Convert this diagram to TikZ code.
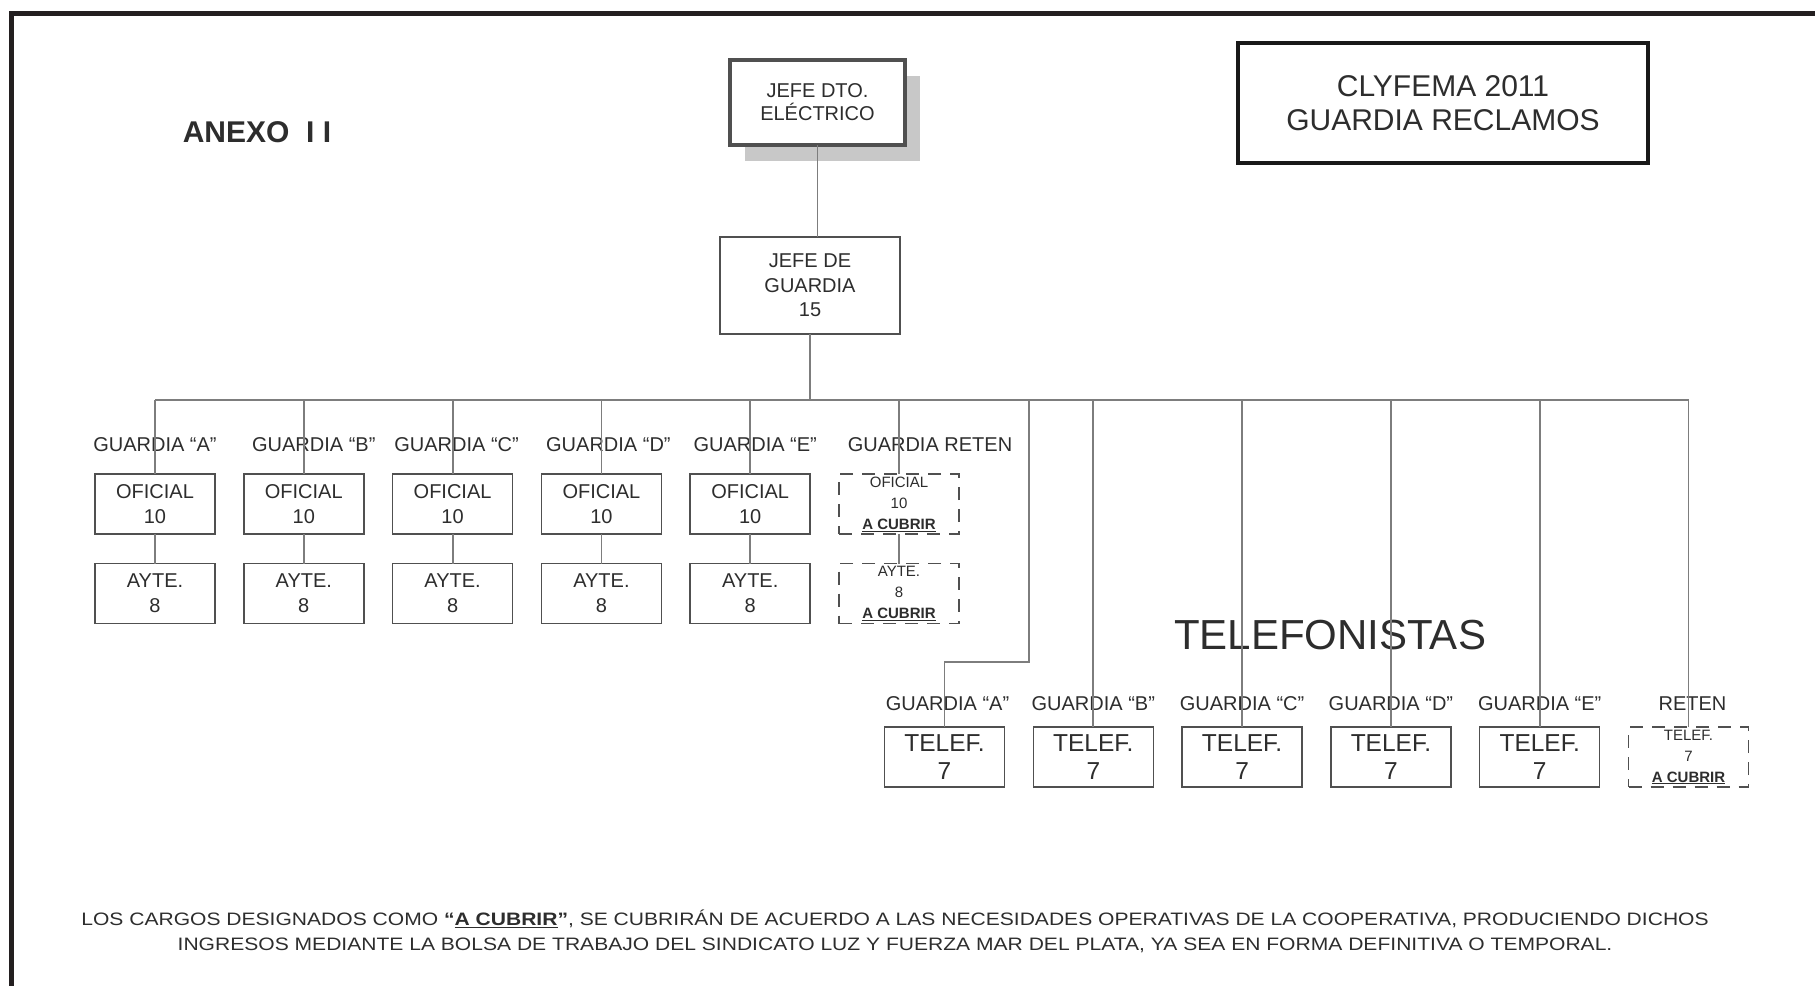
\documentclass[tikz,border=0pt]{standalone}
\usepackage{fontspec}
\setmainfont{Liberation Sans}
\newfontfamily\notafont[FakeStretch=1.17]{Liberation Sans}
\usepackage{tikz,xcolor}
\usetikzlibrary{positioning, shadows}
\definecolor{boxcolor}{RGB}{80,80,80}
\definecolor{linecolor}{RGB}{125,125,125}
\definecolor{shadecolor}{RGB}{200,200,200}
\definecolor{textcolor}{RGB}{45,45,45}
\definecolor{framecolor}{RGB}{35,31,32}

\begin{document}
\begin{tikzpicture}[x=1pt, y=-1pt,
		node distance=29.5pt and 28.8pt,
		base/.style = {draw=boxcolor, fill=white, line width=1.5pt, text=textcolor, inner sep=0pt, outer sep=0pt, align=center},
		cargo/.style = {rectangle, base, minimum width=120pt, minimum height=60pt, font=\fontsize{20}{25}\selectfont},
		tel/.style = {cargo, font=\fontsize{24.5}{28}\selectfont},
		cubrir/.style = {cargo, dash pattern=on 13pt off 9pt, font=\fontsize{15}{21}\selectfont},
		lab/.style = {text=textcolor, inner sep=0pt, align=center, font=\fontsize{20}{24}\selectfont},
		conn/.style = {draw=linecolor, line width=1.8pt}
		]
		\useasboundingbox (0,0) rectangle (1815,986);
		\draw[line width=5pt, draw=framecolor] (1815,13.5) -- (11.5,13.5) -- (11.5,986);
		
		\node (anexo) [lab, font=\bfseries\fontsize{30}{30}\selectfont] at (257,132) {ANEXO~~I~I};
		\node (titulo) [base, draw=black!90, line width=3.5pt, minimum width=410pt, minimum height=120pt, font=\fontsize{30}{34}\selectfont] at (1443,103) {CLYFEMA 2011\\GUARDIA RECLAMOS};
		
		\node (J1) [base, line width=4pt, minimum width=175pt, minimum height=85pt, font=\fontsize{20}{23}\selectfont, drop shadow={shadow xshift=15pt, shadow yshift=-16pt, fill=shadecolor, opacity=1}] at (817.5,102.5) {JEFE DTO.\\ELÉCTRICO};
		\node (J2) [base, minimum width=180pt, minimum height=97pt, font=\fontsize{20}{24.5}\selectfont] at (810,285.5) {JEFE DE\\GUARDIA\\15};
		
		\node (OA) [cargo] at (155,504) {OFICIAL\\10};
		\node (OB) [cargo,right=of OA] {OFICIAL\\10};
		\node (OC) [cargo,right=of OB] {OFICIAL\\10};
		\node (OD) [cargo,right=of OC] {OFICIAL\\10};
		\node (OE) [cargo,right=of OD] {OFICIAL\\10};
		\node (OR) [cubrir,right=of OE] {OFICIAL\\10\\\textbf{\underline{A CUBRIR}}};
		
		\node (YA) [cargo,below=of OA] {AYTE.\\8};
		\node (YB) [cargo,below=of OB] {AYTE.\\8};
		\node (YC) [cargo,below=of OC] {AYTE.\\8};
		\node (YD) [cargo,below=of OD] {AYTE.\\8};
		\node (YE) [cargo,below=of OE] {AYTE.\\8};
		\node (YR) [cubrir,below=of OR] {AYTE.\\8\\\textbf{\underline{A CUBRIR}}};
		
		\node (gA) [lab,above=22pt of OA] {GUARDIA “A”};
		\node (gB) [lab,above=22pt of OB, xshift=10pt] {GUARDIA “B”};
		\node (gC) [lab,above=22pt of OC, xshift=4pt] {GUARDIA “C”};
		\node (gD) [lab,above=22pt of OD, xshift=7pt] {GUARDIA “D”};
		\node (gE) [lab,above=22pt of OE, xshift=5pt] {GUARDIA “E”};
		\node (gR) [lab,above=22pt of OR, xshift=31pt] {GUARDIA RETEN};
		
		\node (telef) [lab, font=\fontsize{42}{42}\selectfont] at (1330,635) {TELEFONISTAS};
		
		\node (TA) [tel] at (944.5,757) {TELEF.\\7};
		\node (TB) [tel,right=of TA] {TELEF.\\7};
		\node (TC) [tel,right=of TB] {TELEF.\\7};
		\node (TD) [tel,right=of TC] {TELEF.\\7};
		\node (TE) [tel,right=of TD] {TELEF.\\7};
		\node (TR) [cubrir,right=of TE] {TELEF.\\7\\\textbf{\underline{A CUBRIR}}};
		
		\node (tA) [lab,above=16pt of TA, xshift=3pt] {GUARDIA “A”};
		\node (tB) [lab,above=16pt of TB] {GUARDIA “B”};
		\node (tC) [lab,above=16pt of TC] {GUARDIA “C”};
		\node (tD) [lab,above=16pt of TD] {GUARDIA “D”};
		\node (tE) [lab,above=16pt of TE] {GUARDIA “E”};
		\node (tR) [lab,above=16pt of TR, xshift=4pt] {RETEN};
		
		\node (nota) [lab, font=\notafont\fontsize{18}{25}\selectfont] at (895,931) {LOS CARGOS DESIGNADOS COMO \textbf{“\underline{A CUBRIR}”}, SE CUBRIRÁN DE ACUERDO A LAS NECESIDADES OPERATIVAS DE LA COOPERATIVA, PRODUCIENDO DICHOS\\INGRESOS MEDIANTE LA BOLSA DE TRABAJO DEL SINDICATO LUZ Y FUERZA MAR DEL PLATA, YA SEA EN FORMA DEFINITIVA O TEMPORAL.};
		
		\coordinate (bus) at (810,400);
		\coordinate (kink) at (1029,662);
		
		\draw[conn] (J1.south) -- (J1.south |- J2.north);
		\draw[conn] (J2.south) -- (J2.south |- bus);
		\draw[conn] (OA.north |- bus) -- (TR.north |- bus);
		\foreach \o/\y in {OA/YA,OB/YB,OC/YC,OD/YD,OE/YE,OR/YR} {
			\draw[conn] (\o.north |- bus) -- (\o.north);
			\draw[conn] (\o.south) -- (\y.north);
		}
		\foreach \t in {TB,TC,TD,TE,TR}
			\draw[conn] (\t.north |- bus) -- (\t.north);
		\draw[conn] (kink |- bus) -- (kink) -| (TA.north);
	\end{tikzpicture}
\end{document}
